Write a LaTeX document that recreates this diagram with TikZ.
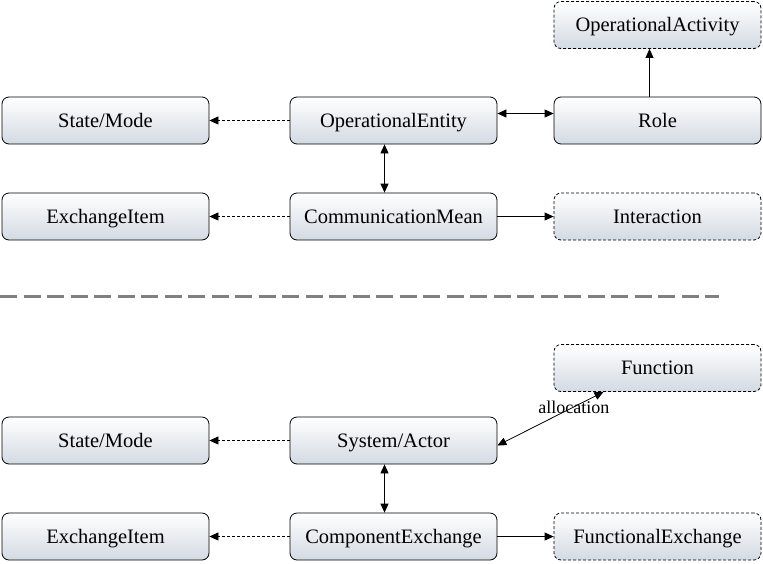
\documentclass[tikz,border=0pt]{standalone}
\usepackage{fontspec}
\setmainfont{Liberation Serif}
\usetikzlibrary{arrows.meta,calc}
\definecolor{boxbot}{HTML}{D3DAE2}
\definecolor{sepgray}{HTML}{808080}
\tikzset{
  box/.style={draw=black, line width=0.8pt, rounded corners=7pt, top color=white, bottom color=boxbot,
    minimum width=207pt, minimum height=47pt, inner sep=0pt, text height=13pt, text depth=0pt,
    font=\fontsize{20.5}{24}\selectfont},
  dbox/.style={box, dashed, dash pattern=on 3pt off 2pt},
  tip/.style={-{Triangle[length=9pt,width=8pt]}},
  btip/.style={{Triangle[length=9pt,width=8pt]}-{Triangle[length=9pt,width=8pt]}},
  conn/.style={line width=0.8pt},
  dconn/.style={conn, tip, dash pattern=on 3pt off 2pt},
}
\begin{document}
\begin{tikzpicture}[x=1pt,y=-1pt]
\useasboundingbox (0,0) rectangle (763,563);
% top section
\node[dbox] (oa) at (657.5,25) {OperationalActivity};
\node[box] (sm1) at (105.5,120.5) {State/Mode};
\node[box] (oe) at (393.5,120.5) {OperationalEntity};
\node[box] (role) at (657.5,120.5) {Role};
\node[box] (ei1) at (105.5,216.5) {ExchangeItem};
\node[box] (cm) at (393.5,216.5) {CommunicationMean};
\node[dbox] (inter) at (657.5,216.5) {Interaction};
\draw[dconn] (oe.west) -- (sm1.east);
\draw[dconn] (cm.west) -- (ei1.east);
\draw[conn,btip] ([yshift=7pt]oe.east) -- ([yshift=7pt]role.west);
\draw[conn,btip] ([xshift=-9pt]oe.south) -- ([xshift=-9pt]cm.north);
\draw[conn,tip] (cm.east) -- (inter.west);
\draw[conn,tip] ([xshift=-8pt]role.north) -- ([xshift=-8pt]oa.south);
% separator
\coordinate (s1) at (0,296);
\coordinate (s2) at (719,296);
\draw[sepgray, line width=3pt, dash pattern=on 17pt off 6.5pt] (s1) -- (s2);
% bottom section
\node[dbox] (fn) at (657.5,368) {Function};
\node[box] (sm2) at (105.5,440.5) {State/Mode};
\node[box] (sa) at (393.5,440.5) {System/Actor};
\node[box] (ei2) at (105.5,536.5) {ExchangeItem};
\node[box] (ce) at (393.5,536.5) {ComponentExchange};
\node[dbox] (fe) at (657.5,536.5) {FunctionalExchange};
\draw[dconn] (sa.west) -- (sm2.east);
\draw[dconn] (ce.west) -- (ei2.east);
\draw[conn,btip] ([yshift=-5pt]sa.east) -- node[pos=0.72, above=-7pt, font=\fontsize{18}{20}\selectfont, inner sep=0pt] {allocation} ([xshift=-54pt]fn.south);
\draw[conn,btip] ([xshift=-9pt]sa.south) -- ([xshift=-9pt]ce.north);
\draw[conn,tip] (ce.east) -- (fe.west);
\end{tikzpicture}
\end{document}
